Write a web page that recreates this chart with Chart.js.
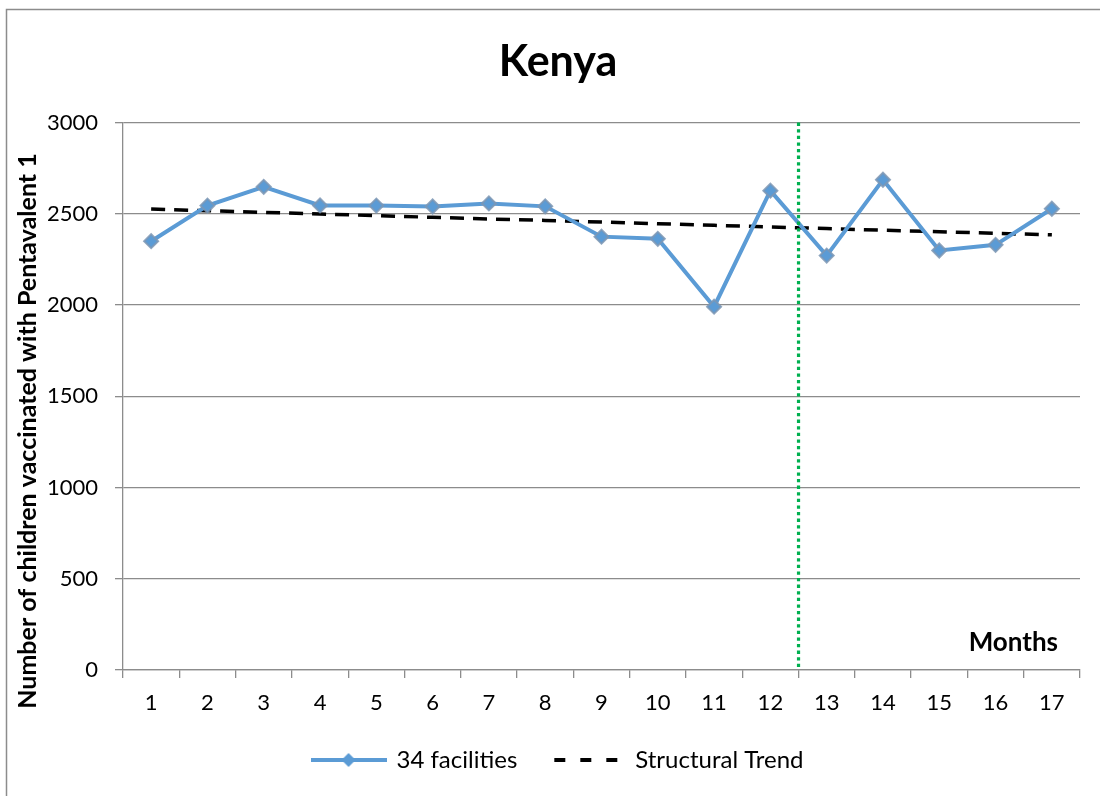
<!DOCTYPE html>
<html>
<head>
<meta charset="utf-8">
<script src="https://cdn.jsdelivr.net/npm/chart.js@4/dist/chart.umd.min.js"></script>
<style>
html,body{margin:0;padding:0;background:#fff;}
#wrap{width:1100px;height:796px;position:relative;}
</style>
</head>
<body>
<div id="wrap"><canvas id="c" width="1100" height="796"></canvas></div>
<script>
const months = ['1','2','3','4','5','6','7','8','9','10','11','12','13','14','15','16','17'];
const facilities = [2350, 2545, 2648, 2546, 2545, 2540, 2557, 2541, 2375, 2363, 1991, 2627, 2271, 2687, 2299, 2330, 2528];
const structuralTrend = [2526, 2517, 2508, 2499, 2490, 2481, 2472, 2464, 2455, 2446, 2437, 2428, 2419, 2410, 2402, 2393, 2385];
const breakAfterIndex = 11; // dotted line between month 12 and 13
const yTicks = [0, 500, 1000, 1500, 2000, 2500, 3000];

const FONT = 'Lato, "Open Sans", sans-serif';
const BLUE = '#5B9BD5';

function makeLineMarkerIcon(){
  const c = document.createElement('canvas'); c.width = 76; c.height = 16;
  const x = c.getContext('2d');
  x.strokeStyle = BLUE; x.lineWidth = 4; x.beginPath(); x.moveTo(0,8); x.lineTo(76,8); x.stroke();
  x.fillStyle = BLUE; x.beginPath(); x.moveTo(38,1); x.lineTo(45,8); x.lineTo(38,15); x.lineTo(31,8); x.closePath(); x.fill();
  return c;
}
function makeDashIcon(){
  const c = document.createElement('canvas'); c.width = 70; c.height = 16;
  const x = c.getContext('2d');
  x.strokeStyle = '#000'; x.lineWidth = 4; x.setLineDash([11,15]);
  x.beginPath(); x.moveTo(2,8); x.lineTo(70,8); x.stroke();
  return c;
}
const icons = [makeLineMarkerIcon(), makeDashIcon()];

const decor = {
  id: 'decor',
  beforeDraw(chart){
    const ctx = chart.ctx;
    ctx.save();
    ctx.fillStyle = '#fff'; ctx.fillRect(0,0,chart.width,chart.height);
    ctx.strokeStyle = '#8c8c8c'; ctx.lineWidth = 1.5;
    ctx.beginPath(); ctx.moveTo(6.5, 800); ctx.lineTo(6.5, 9.5); ctx.lineTo(1100, 9.5); ctx.stroke();
    ctx.restore();
  },
  afterDatasetsDraw(chart){
    const ctx = chart.ctx, a = chart.chartArea, xs = chart.scales.x;
    const px = xs.getPixelForValue(breakAfterIndex + 0.5);
    ctx.save();
    ctx.strokeStyle = '#00B050'; ctx.lineWidth = 3.2; ctx.setLineDash([3.3,3.3]);
    ctx.beginPath(); ctx.moveTo(px, a.top); ctx.lineTo(px, a.bottom); ctx.stroke();
    ctx.restore();
  },
  afterDraw(chart){
    const ctx = chart.ctx, a = chart.chartArea;
    ctx.save();
    ctx.fillStyle = '#000';
    ctx.font = 'bold 26px ' + FONT;
    ctx.textAlign = 'right'; ctx.textBaseline = 'alphabetic';
    ctx.fillText('Months', a.right - 22, a.bottom - 19);
    ctx.translate(28, 431);
    ctx.rotate(-Math.PI/2);
    ctx.textAlign = 'center'; ctx.textBaseline = 'middle';
    ctx.font = 'bold 25px ' + FONT;
    ctx.fillText('Number of children vaccinated with Pentavalent 1', 0, 0);
    ctx.restore();
  }
};

new Chart(document.getElementById('c'), {
  type: 'line',
  data: {
    labels: months,
    datasets: [
      {
        label: '34 facilities',
        data: facilities,
        borderColor: BLUE,
        backgroundColor: BLUE,
        borderWidth: 4,
        pointStyle: 'rectRot',
        pointRadius: 7,
        pointBackgroundColor: BLUE,
        pointBorderColor: 'rgba(125,150,180,0.85)',
        pointBorderWidth: 2,
        tension: 0,
        order: 1
      },
      {
        label: 'Structural Trend',
        data: structuralTrend,
        borderColor: '#000',
        backgroundColor: '#000',
        borderWidth: 3.5,
        borderDash: [14, 9],
        pointRadius: 0,
        tension: 0,
        order: 2
      }
    ]
  },
  options: {
    responsive: false,
    animation: false,
    layout: { padding: { left: 36, right: 20, top: 0, bottom: 14 } },
    plugins: {
      title: {
        display: true, text: 'Kenya', color: '#000',
        font: { family: FONT, size: 43, weight: 'bold', lineHeight: 1.2 },
        padding: { top: 36, bottom: 35 }
      },
      legend: {
        position: 'bottom',
        labels: {
          usePointStyle: true,
          pointStyleWidth: 72,
          color: '#000',
          font: { family: FONT, size: 24 },
          padding: 34,
          generateLabels(chart){
            return chart.data.datasets.map((d,i) => ({
              text: d.label, pointStyle: icons[i], fillStyle: d.borderColor,
              strokeStyle: d.borderColor, lineWidth: 0, hidden: false, datasetIndex: i, fontColor: '#000'
            }));
          }
        }
      },
      tooltip: { enabled: false }
    },
    scales: {
      x: {
        offset: true,
        grid: { offset: true, drawOnChartArea: false, drawTicks: true, tickLength: 8, color: '#8c8c8c', lineWidth: 1.3 },
        border: { color: '#8c8c8c', width: 1.3 },
        ticks: { color: '#000', font: { family: FONT, size: 22 }, padding: 12, maxRotation: 0, autoSkip: false },
        afterFit(s){ s.height = 44; }
      },
      y: {
        min: 0, max: 3000,
        afterBuildTicks(s){ s.ticks = yTicks.map(v => ({ value: v })); },
        grid: { color: '#8c8c8c', lineWidth: 1.3, tickLength: 8 },
        border: { color: '#8c8c8c', width: 1.3 },
        ticks: { color: '#000', font: { family: FONT, size: 22 }, padding: 17, callback: v => String(v) },
        afterFit(s){ s.width = 87; }
      }
    }
  },
  plugins: [decor]
});
</script>
</body>
</html>
